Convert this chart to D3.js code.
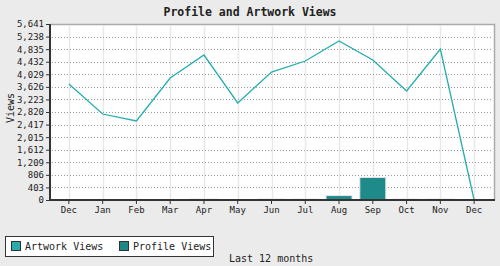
<!DOCTYPE html>
<html>
<head>
<meta charset="utf-8">
<script src="https://cdn.jsdelivr.net/npm/d3@7"></script>
<style>
  body { margin: 0; background: #ebebeb; }
  text { font-family: "DejaVu Sans Mono", "Liberation Mono", monospace; fill: #222; }
</style>
</head>
<body>
<div class="chart"></div>
<script>
// Chart data
var months = ["Dec", "Jan", "Feb", "Mar", "Apr", "May", "Jun", "Jul", "Aug", "Sep", "Oct", "Nov", "Dec "];
var artworkViews = [3718, 2756, 2532, 3910, 4647, 3109, 4102, 4455, 5096, 4487, 3493, 4840, 0];
var profileViews = [null, null, null, null, 0, null, 0, 0, 110, 690, 0, 0, null];
var yTicks = [0, 403, 806, 1209, 1612, 2015, 2417, 2820, 3223, 3626, 4029, 4432, 4835, 5238, 5641];

var svgWidth = 500;
var svgHeight = 266;
var margin = { top: 24, right: 5, bottom: 66, left: 50 };
var width = svgWidth - margin.left - margin.right;
var height = svgHeight - margin.top - margin.bottom;

var svg = d3.select(".chart")
  .append("svg")
  .attr("width", svgWidth)
  .attr("height", svgHeight)
  .style("display", "block");

svg.append("rect")
  .attr("width", svgWidth)
  .attr("height", svgHeight)
  .attr("fill", "#ebebeb");

// Title
svg.append("text")
  .attr("x", 250)
  .attr("y", 16)
  .attr("text-anchor", "middle")
  .attr("font-size", "11.5px")
  .attr("font-weight", "bold")
  .text("Profile and Artwork Views");

var chart = svg.append("g")
  .attr("transform", "translate(" + margin.left + "," + margin.top + ")");

// Scales
var xScale = d3.scaleBand().domain(months).range([2, width - 4]);
var yScale = d3.scaleLinear().domain([0, 5641]).range([height, 0]);
var xc = function(d, i) { return xScale(months[i]) + xScale.bandwidth() / 2; };

// Plot background + frame
chart.append("rect")
  .attr("width", width)
  .attr("height", height)
  .attr("fill", "white");
chart.append("path")
  .attr("d", "M0,0.5H" + (width - 0.5) + "V" + height)
  .attr("fill", "none")
  .attr("stroke", "#aaa")
  .attr("stroke-width", 1.5);

// Vertical grid
chart.selectAll(".vgrid")
  .data(months)
  .enter()
  .append("line")
  .attr("class", "vgrid")
  .attr("x1", function(d) { return Math.round(xScale(d) + xScale.bandwidth() / 2) + 0.5; })
  .attr("x2", function(d) { return Math.round(xScale(d) + xScale.bandwidth() / 2) + 0.5; })
  .attr("y1", 1)
  .attr("y2", height)
  .attr("stroke", "#e8e8e8")
  .attr("stroke-width", 1.5);

// Horizontal dotted grid
chart.selectAll(".hgrid")
  .data(yTicks.slice(1, -1))
  .enter()
  .append("line")
  .attr("class", "hgrid")
  .attr("x1", 2)
  .attr("x2", width - 2)
  .attr("y1", function(d) { return Math.round(yScale(d)) + 0.5; })
  .attr("y2", function(d) { return Math.round(yScale(d)) + 0.5; })
  .attr("stroke", "#999")
  .attr("stroke-dasharray", "1,2");

// Bars (profile views)
var barData = profileViews.map(function(v, i) { return { v: v, i: i }; })
  .filter(function(d) { return d.v !== null; });
chart.selectAll(".bar")
  .data(barData)
  .enter()
  .append("rect")
  .attr("class", "bar")
  .attr("x", function(d) { return xc(null, d.i) - 13; })
  .attr("width", 26)
  .attr("y", function(d) { return yScale(d.v) - 1; })
  .attr("height", function(d) { return height - yScale(d.v) + 1; })
  .attr("fill", "#1e8a8a")
  .attr("stroke", "#e6e6e6")
  .attr("stroke-width", 1);

// Line (artwork views)
var line = d3.line()
  .x(function(d, i) { return xc(d, i); })
  .y(function(d) { return yScale(d); });
chart.append("path")
  .datum(artworkViews)
  .attr("d", line)
  .attr("fill", "none")
  .attr("stroke", "#26adad")
  .attr("stroke-width", 1.3);

// Axes
var leftAxis = d3.axisLeft(yScale)
  .tickValues(yTicks)
  .tickSize(4)
  .tickFormat(d3.format(","));
var bottomAxis = d3.axisBottom(xScale)
  .tickSize(4)
  .tickFormat(function(d) { return d.trim(); });

var gy = chart.append("g").attr("class", "yAxis").call(leftAxis);
var gx = chart.append("g")
  .attr("class", "xAxis")
  .attr("transform", "translate(0," + height + ")")
  .call(bottomAxis);

[gx, gy].forEach(function(g) {
  g.select(".domain").attr("stroke", "#333").attr("stroke-width", 2);
  g.selectAll(".tick line").attr("stroke", "#333");
  g.selectAll(".tick text")
    .attr("font-size", "9px")
    .attr("font-family", "DejaVu Sans Mono, monospace")
    .attr("fill", "#222");
});
gy.select(".domain").attr("d", "M0," + height + "V0");
gx.select(".domain").attr("d", "M0,0H" + width);
gy.selectAll(".tick text").attr("x", -6);

// Axis labels
chart.append("text")
  .attr("transform", "rotate(-90)")
  .attr("x", -height / 2 + 4)
  .attr("y", -36)
  .attr("text-anchor", "middle")
  .attr("font-size", "10px")
  .text("Views");

svg.append("text")
  .attr("x", 229)
  .attr("y", 262)
  .attr("font-size", "10px")
  .text("Last 12 months");

// Legend
var legend = svg.append("g").attr("transform", "translate(5,236)");
legend.append("rect")
  .attr("x", 0.5)
  .attr("y", 0.5)
  .attr("width", 208)
  .attr("height", 20)
  .attr("fill", "white")
  .attr("stroke", "#333")
  .attr("stroke-width", 1);

var legendItems = [
  { name: "Artwork Views", color: "#2aacac", x: 6 },
  { name: "Profile Views", color: "#1e8888", x: 114 }
];
legendItems.forEach(function(item) {
  legend.append("rect")
    .attr("x", item.x + 0.5)
    .attr("y", 5.5)
    .attr("width", 9)
    .attr("height", 9)
    .attr("fill", item.color)
    .attr("stroke", "#333");
  legend.append("text")
    .attr("x", item.x + 14)
    .attr("y", 14)
    .attr("font-size", "10px")
    .text(item.name);
});
</script>
</body>
</html>
